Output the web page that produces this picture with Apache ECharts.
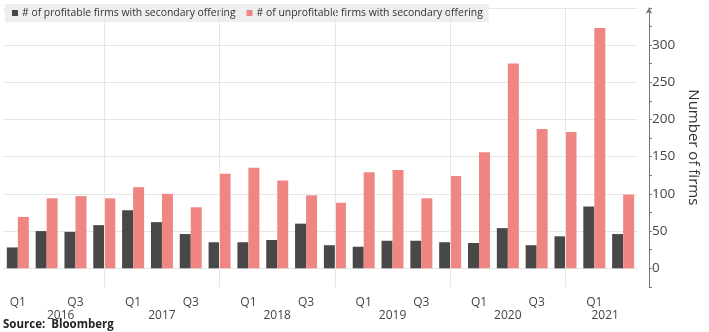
<!DOCTYPE html>
<html>
<head>
<meta charset="utf-8">
<title>Secondary offerings by profitability</title>
<script src="https://cdn.jsdelivr.net/npm/echarts@6/dist/echarts.min.js"></script>
<style>
  html, body { margin: 0; padding: 0; background: #ffffff; }
  #chart { width: 709px; height: 332px; }
</style>
</head>
<body>
<div id="chart"></div>
<script>
// Quarterly counts of firms doing a secondary offering, split by profitability
const categories = [
  'Q1 2016', 'Q2 2016', 'Q3 2016', 'Q4 2016',
  'Q1 2017', 'Q2 2017', 'Q3 2017', 'Q4 2017',
  'Q1 2018', 'Q2 2018', 'Q3 2018', 'Q4 2018',
  'Q1 2019', 'Q2 2019', 'Q3 2019', 'Q4 2019',
  'Q1 2020', 'Q2 2020', 'Q3 2020', 'Q4 2020',
  'Q1 2021', 'Q2 2021'
];
const profitable = [28, 50, 49, 58, 78, 62, 46, 35, 35, 38, 60, 31, 29, 37, 37, 35, 34, 54, 31, 43, 83, 46];
const unprofitable = [69, 94, 97, 94, 109, 100, 82, 127, 135, 118, 98, 88, 129, 132, 94, 124, 156, 275, 187, 183, 323, 99];
const seriesNames = ['# of profitable firms with secondary offering', '# of unprofitable firms with secondary offering'];
const yMin = -25, yMax = 350, yStep = 25, yLabelStep = 50, yLabelMax = 300;
const axisTitle = 'Number of firms';
const sourceNote = 'Source:  Bloomberg';

const FONT = '"Open Sans", "Noto Sans", sans-serif';
const DARK = '#484848';
const SALMON = '#f08682';
const GRID = '#e6e6e6';

// Year separators sit on each Q4 bar pair (except the final year)
const separators = categories
  .filter((c, i) => c.startsWith('Q4') && i < categories.length - 1)
  .map(c => ({ xAxis: c }));

// Horizontal grid only on labelled steps (0, 50, ... 350)
const gridColors = [];
for (let v = yMin; v <= yMax; v += yStep) {
  gridColors.push(v >= 0 && v % yLabelStep === 0 ? GRID : 'rgba(0,0,0,0)');
}

// Year captions are nudged inward at the two ends of the axis
const yearShift = { '2016': 14, '2021': -18 };

const chart = echarts.init(document.getElementById('chart'), null, { renderer: 'canvas' });
chart.setOption({
  animation: false,
  textStyle: { fontFamily: FONT },
  title: {
    text: sourceNote,
    left: 3,
    top: 319,
    padding: 0,
    textStyle: { fontFamily: FONT, fontSize: 11.5, fontWeight: 'bold', color: '#222' }
  },
  legend: {
    data: seriesNames,
    left: 5,
    top: 4,
    padding: [4, 6, 4, 7],
    backgroundColor: '#eeeeee',
    icon: 'rect',
    itemWidth: 6,
    itemHeight: 6,
    itemGap: 11,
    textStyle: { fontFamily: FONT, fontSize: 10.4, color: '#333', padding: [0, 0, 0, -1] }
  },
  grid: { left: 3.4, right: 62.7, top: 7.8, bottom: 45.1, containLabel: false },
  xAxis: {
    type: 'category',
    data: categories,
    boundaryGap: true,
    axisLine: { show: false },
    axisTick: { show: false },
    splitLine: { show: false },
    axisLabel: {
      interval: 0,
      margin: 9,
      fontFamily: FONT,
      fontSize: 12,
      color: '#444',
      lineHeight: 13,
      formatter: function (value) {
        const parts = value.split(' ');
        const q = parts[0], yr = parts[1];
        if (q === 'Q1' || q === 'Q3') return q;
        if (q === 'Q2') {
          const s = yearShift[yr] || 0;
          const key = s > 0 ? 'yr' : (s < 0 ? 'yl' : 'y');
          return '\n{' + key + '|' + yr + '}';
        }
        return '';
      },
      rich: {
        y: { fontFamily: FONT, fontSize: 12, color: '#444', lineHeight: 13 },
        yr: { fontFamily: FONT, fontSize: 12, color: '#444', lineHeight: 13, padding: [0, 0, 0, 28] },
        yl: { fontFamily: FONT, fontSize: 12, color: '#444', lineHeight: 13, padding: [0, 36, 0, 0] }
      }
    }
  },
  yAxis: {
    type: 'value',
    position: 'right',
    offset: 11.4,
    min: yMin,
    max: yMax,
    interval: yStep,
    axisLine: {
      show: true,
      symbol: ['none', 'arrow'],
      symbolSize: [5, 6],
      lineStyle: { color: '#777', width: 1 }
    },
    axisTick: { show: true, length: 3, lineStyle: { color: '#777' } },
    axisLabel: {
      margin: 3,
      fontFamily: FONT,
      fontSize: 13.5,
      color: '#444',
      formatter: function (v) {
        return (v >= 0 && v <= yLabelMax && v % yLabelStep === 0) ? String(v) : '';
      }
    },
    splitLine: { show: true, lineStyle: { color: gridColors, width: 1 } },
    name: axisTitle,
    nameLocation: 'middle',
    nameRotate: -90,
    nameGap: 37,
    nameTextStyle: { fontFamily: FONT, fontSize: 15, color: '#333' }
  },
  series: [
    {
      name: seriesNames[0],
      type: 'bar',
      data: profitable,
      barWidth: 11,
      barGap: '0%',
      z: 3,
      itemStyle: { color: DARK }
    },
    {
      name: seriesNames[1],
      type: 'bar',
      data: unprofitable,
      barWidth: 11,
      barGap: '0%',
      z: 3,
      itemStyle: { color: SALMON }
    },
    {
      // carrier for the year separator lines, kept beneath the bars
      name: 'year separators',
      type: 'line',
      data: [],
      z: 1,
      silent: true,
      markLine: {
        silent: true,
        symbol: ['none', 'none'],
        label: { show: false },
        lineStyle: { color: GRID, width: 1, type: 'solid' },
        data: separators
      }
    }
  ]
});
</script>
</body>
</html>
